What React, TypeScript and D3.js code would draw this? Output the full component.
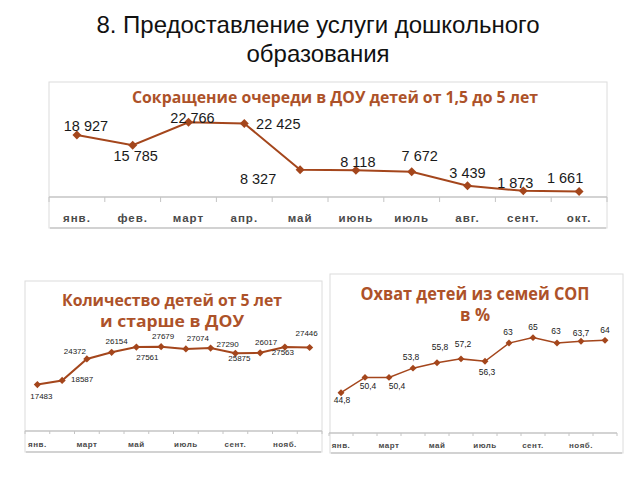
import React from "react";
import * as d3 from "d3";

// ---------- DATA ----------
const TOP_MONTHS = ["янв.", "фев.", "март", "апр.", "май", "июнь", "июль", "авг.", "сент.", "окт."];
const TOP_VALUES = [18927, 15785, 22766, 22425, 8327, 8118, 7672, 3439, 1873, 1661];

const YEAR_MONTHS = ["янв.", "фев.", "март", "апр.", "май", "июнь", "июль", "авг.", "сент.", "окт.", "нояб.", "дек."];
const YEAR_TICK_LABELS = ["янв.", "март", "май", "июль", "сент.", "нояб."];
const KIDS_VALUES = [17483, 18587, 24372, 26154, 27561, 27679, 27074, 27290, 25875, 26017, 27563, 27446];
const SOP_VALUES = [44.8, 50.4, 50.4, 53.8, 55.8, 57.2, 56.3, 63, 65, 63, 63.7, 64];

const MAIN_TITLE = ["8. Предоставление услуги дошкольного", "образования"];
const TOP_TITLE = ["Сокращение очереди в ДОУ детей от 1,5 до 5 лет"];
const KIDS_TITLE = ["Количество детей от 5 лет", "и старше в ДОУ"];
const SOP_TITLE = ["Охват детей из семей СОП", "в %"];

// label placement offsets (layout only)
const TOP_OFFSETS: [number, number][] = [[9, -4], [3, 16], [4, 1], [34, 6], [-42, 14], [2, -3], [8, -11], [0, -8], [-8, -3], [-14, -9]];
const KIDS_OFFSETS: [number, number][] = [[4, 14], [20, 2], [-12, -5], [5, -8], [11, 13], [2, -8], [12, -8], [17, -1], [4, 8], [6, -8], [-2, 8], [-3, -12]];
const SOP_OFFSETS: [number, number][] = [[1, 10], [3, 12], [8, 12], [-2, -8], [3, -13], [2, -12], [2, 14], [-1, -8], [0, -8], [-1, -9], [0, -5], [0, -7]];

const LINE_COLOR = "#a4461c";
const TITLE_COLOR = "#ad5229";

type PanelProps = {
  box: [number, number, number, number];
  xRange: [number, number];
  axisY: number;
  yDomain: [number, number];
  yTop: number;
  cats: string[];
  tickLabels: string[];
  values: number[];
  offsets: [number, number][];
  fmt: (v: number) => string;
  labelFont: number;
  axisFont: number;
  axisLabelY: number;
  markerSize: number;
  lineWidth: number;
  title: string[];
  titleX: number;
  titleY: number;
  titleFont: number;
  titleLH: number;
  titleLen?: number[];
  tickLen: number;
  letterSpacing: number;
};

function Panel(p: PanelProps) {
  const x = d3.scaleBand<string>().domain(p.cats).range(p.xRange).paddingInner(0).paddingOuter(0);
  const y = d3.scaleLinear().domain(p.yDomain).range([p.axisY, p.yTop]);
  const cx = (i: number) => (x(p.cats[i]) as number) + x.bandwidth() / 2;
  const line = d3.line<number>().x((_, i) => cx(i)).y((d) => y(d));
  const sq = d3.symbol(d3.symbolSquare, p.markerSize)() as string;
  const [bx0, by0, bx1, by1] = p.box;
  const bounds = p.cats.map((c) => x(c) as number).concat([p.xRange[1]]);
  return (
    <g>
      <rect x={bx0} y={by0} width={bx1 - bx0} height={by1 - by0} fill="#fff" stroke="#dcdcdc" strokeWidth={1} />
      <line x1={bx0 + 1} x2={bx1 - 1} y1={by1} y2={by1} stroke="#c8c8c8" strokeWidth={1.5} />
      {p.title.map((t, i) => (
        <text
          key={i}
          x={p.titleX}
          y={p.titleY + i * p.titleLH}
          textAnchor="middle"
          fontFamily="'Open Sans', sans-serif"
          fontWeight="bold"
          fontSize={p.titleFont}
          fill={TITLE_COLOR}
          textLength={p.titleLen ? p.titleLen[i] : undefined}
          lengthAdjust="spacingAndGlyphs"
        >
          {t}
        </text>
      ))}
      <line x1={p.xRange[0]} x2={p.xRange[1]} y1={p.axisY} y2={p.axisY} stroke="#c4c4c4" strokeWidth={1.5} />
      {bounds.map((b, i) => (
        <line key={i} x1={b} x2={b} y1={p.axisY} y2={p.axisY + p.tickLen} stroke="#c4c4c4" strokeWidth={1} />
      ))}
      {p.tickLabels.map((t) => (
        <text
          key={t}
          x={(x(t) as number) + x.bandwidth() / 2}
          y={p.axisLabelY}
          textAnchor="middle"
          fontFamily="'Liberation Sans', Arial, sans-serif"
          fontWeight="bold"
          fontSize={p.axisFont}
          letterSpacing={p.letterSpacing}
          fill="#4a4a4a"
        >
          {t}
        </text>
      ))}
      <path d={line(p.values) as string} fill="none" stroke={LINE_COLOR} strokeWidth={p.lineWidth} />
      {p.values.map((v, i) => (
        <path key={i} d={sq} transform={`translate(${cx(i)},${y(v)}) rotate(45)`} fill={LINE_COLOR} />
      ))}
      {p.values.map((v, i) => (
        <text
          key={"l" + i}
          x={cx(i) + p.offsets[i][0]}
          y={y(v) + p.offsets[i][1]}
          textAnchor="middle"
          fontFamily="'Liberation Sans', Arial, sans-serif"
          fontSize={p.labelFont}
          fill="#1a1a1a"
        >
          {p.fmt(v)}
        </text>
      ))}
    </g>
  );
}

export default function App() {
  const spaceFmt = (v: number) => d3.format(",")(v).replace(/,/g, " ");
  const plainFmt = (v: number) => String(v);
  const commaFmt = (v: number) => String(v).replace(".", ",");
  return (
    <svg width={640} height={480} style={{ position: "absolute", left: 0, top: 0, background: "#fff" }}>
      <rect x={0} y={0} width={640} height={480} fill="#fff" />
      {MAIN_TITLE.map((t, i) => (
        <text
          key={i}
          x={318}
          y={33 + i * 29}
          textAnchor="middle"
          fontFamily="'Liberation Sans', Arial, sans-serif"
          fontSize={24}
          fill="#111"
        >
          {t}
        </text>
      ))}
      <Panel
        box={[49, 82, 607, 228]}
        xRange={[49, 607]}
        axisY={197}
        yDomain={[0, 25000]}
        yTop={115}
        cats={TOP_MONTHS}
        tickLabels={TOP_MONTHS}
        values={TOP_VALUES}
        offsets={TOP_OFFSETS}
        fmt={spaceFmt}
        labelFont={14.5}
        axisFont={11.5}
        axisLabelY={222}
        markerSize={40}
        lineWidth={2}
        title={TOP_TITLE}
        titleX={335}
        titleY={103}
        titleFont={15.5}
        titleLH={0}
        titleLen={[406]}
        tickLen={5}
        letterSpacing={1}
      />
      <Panel
        box={[25, 281, 322, 452]}
        xRange={[25, 322]}
        axisY={431}
        yDomain={[5000, 30000]}
        yTop={338}
        cats={YEAR_MONTHS}
        tickLabels={YEAR_TICK_LABELS}
        values={KIDS_VALUES}
        offsets={KIDS_OFFSETS}
        fmt={plainFmt}
        labelFont={8}
        axisFont={8}
        axisLabelY={447}
        markerSize={26}
        lineWidth={2}
        title={KIDS_TITLE}
        titleX={172}
        titleY={306}
        titleFont={16.5}
        titleLH={21}
        titleLen={[220, 144]}
        tickLen={3}
        letterSpacing={0.5}
      />
      <Panel
        box={[330, 274, 623, 453]}
        xRange={[329, 617]}
        axisY={433}
        yDomain={[30, 70]}
        yTop={324}
        cats={YEAR_MONTHS}
        tickLabels={YEAR_TICK_LABELS}
        values={SOP_VALUES}
        offsets={SOP_OFFSETS}
        fmt={commaFmt}
        labelFont={8.5}
        axisFont={8}
        axisLabelY={448}
        markerSize={24}
        lineWidth={1.5}
        title={SOP_TITLE}
        titleX={475}
        titleY={300}
        titleFont={17}
        titleLH={21}
        titleLen={[229, 30]}
        tickLen={3}
        letterSpacing={0.5}
      />
    </svg>
  );
}
